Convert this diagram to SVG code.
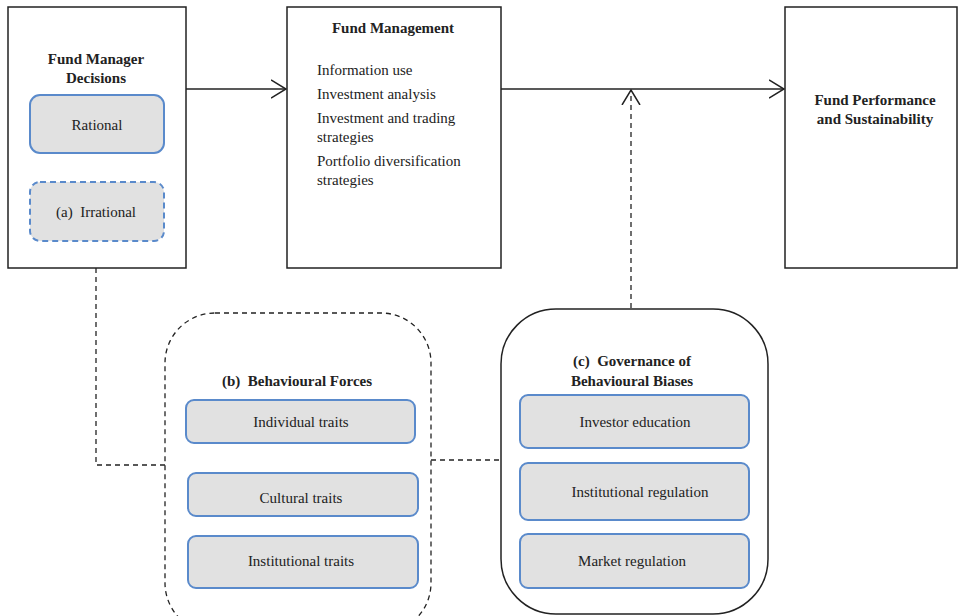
<svg xmlns="http://www.w3.org/2000/svg" width="959" height="616" viewBox="0 0 959 616">
<style>
.box{fill:#fff;stroke:#222;stroke-width:1.5}
.pill{fill:#e1e1e1;stroke:#5a8acb;stroke-width:2}
.pilld{fill:#e1e1e1;stroke:#5a8acb;stroke-width:2;stroke-dasharray:6 4}
.t{font-family:"Liberation Serif",serif;font-size:15px;fill:#222}
.b{font-family:"Liberation Serif",serif;font-size:15px;font-weight:bold;fill:#222}
.line{fill:none;stroke:#222;stroke-width:1.5}
.dash{fill:none;stroke:#222;stroke-width:1.3;stroke-dasharray:5 4}
</style>
<defs>
<marker id="chev" viewBox="0 0 16 20" refX="15" refY="10" markerWidth="16" markerHeight="20" markerUnits="userSpaceOnUse" orient="auto">
<path d="M0,1 L15,10 L0,19" fill="none" stroke="#222" stroke-width="1.5"/>
</marker>
</defs>
<g id="fund-manager-decisions">
<rect class="box" x="8" y="7" width="178" height="261"/>
<text class="b" x="96" y="64" text-anchor="middle">Fund Manager</text>
<text class="b" x="96" y="83" text-anchor="middle">Decisions</text>
<rect class="pill" x="30" y="95" width="134" height="58" rx="10"/>
<text class="t" x="97" y="130" text-anchor="middle">Rational</text>
<rect class="pilld" x="30" y="182" width="134" height="59" rx="10"/>
<text class="t" x="96" y="217" text-anchor="middle" xml:space="preserve">(a)  Irrational</text>
</g>
<g id="fund-management">
<rect class="box" x="287" y="7" width="214" height="261"/>
<text class="b" x="393" y="33" text-anchor="middle">Fund Management</text>
<text class="t" x="317" y="75">Information use</text>
<text class="t" x="317" y="99">Investment analysis</text>
<text class="t" x="317" y="123">Investment and trading</text>
<text class="t" x="317" y="142">strategies</text>
<text class="t" x="317" y="166">Portfolio diversification</text>
<text class="t" x="317" y="185">strategies</text>
</g>
<g id="fund-performance">
<rect class="box" x="785" y="7" width="172" height="261"/>
<text class="b" x="875" y="105" text-anchor="middle">Fund Performance</text>
<text class="b" x="875" y="124" text-anchor="middle">and Sustainability</text>
</g>
<g id="behavioural-forces">
<rect x="165" y="313" width="266" height="320" rx="50" fill="none" stroke="#222" stroke-width="1.3" stroke-dasharray="5 4"/>
<text class="b" x="297" y="386" text-anchor="middle" xml:space="preserve">(b)  Behavioural Forces</text>
<rect class="pill" x="186" y="400" width="229" height="43" rx="8"/>
<text class="t" x="301" y="427" text-anchor="middle">Individual traits</text>
<rect class="pill" x="188" y="473" width="230" height="43" rx="8"/>
<text class="t" x="301" y="503" text-anchor="middle">Cultural traits</text>
<rect class="pill" x="188" y="536" width="230" height="52" rx="8"/>
<text class="t" x="301" y="566" text-anchor="middle">Institutional traits</text>
</g>
<g id="governance">
<rect x="501" y="309" width="267" height="305" rx="55" fill="none" stroke="#222" stroke-width="1.5"/>
<text class="b" x="632" y="366" text-anchor="middle" xml:space="preserve">(c)  Governance of</text>
<text class="b" x="632" y="386" text-anchor="middle">Behavioural Biases</text>
<rect class="pill" x="520" y="395" width="229" height="53" rx="8"/>
<text class="t" x="635" y="427" text-anchor="middle">Investor education</text>
<rect class="pill" x="520" y="463" width="229" height="57" rx="8"/>
<text class="t" x="640" y="497" text-anchor="middle">Institutional regulation</text>
<rect class="pill" x="520" y="534" width="229" height="54" rx="8"/>
<text class="t" x="632" y="566" text-anchor="middle">Market regulation</text>
</g>
<g id="connectors">
<line class="line" x1="186" y1="89" x2="286" y2="89" marker-end="url(#chev)"/>
<line class="line" x1="501" y1="89" x2="784" y2="89" marker-end="url(#chev)"/>
<line class="dash" x1="631" y1="308" x2="631" y2="90" marker-end="url(#chev)"/>
<polyline class="dash" points="96,268 96,465 165,465"/>
<line class="dash" x1="431" y1="460" x2="501" y2="460"/>
</g>
</svg>
